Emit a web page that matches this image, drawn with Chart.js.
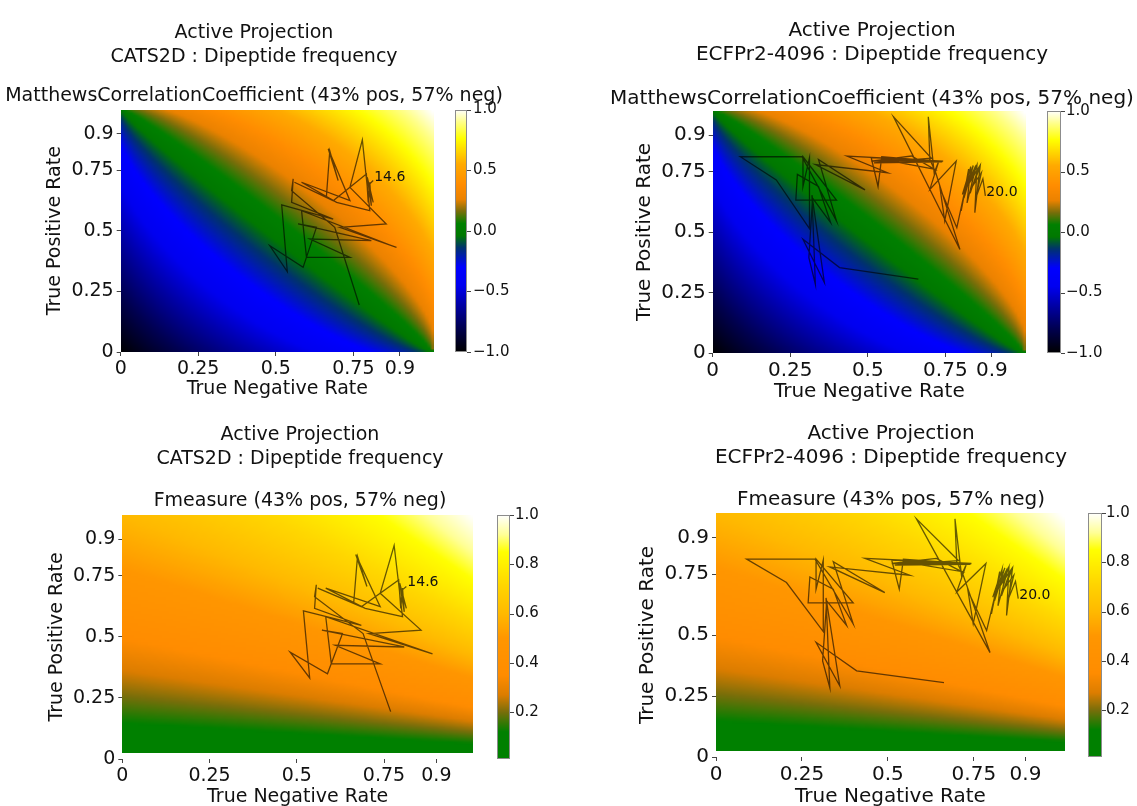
<!DOCTYPE html>
<html>
<head>
<meta charset="utf-8">
<script src="https://cdn.jsdelivr.net/npm/chart.js@4.4.1/dist/chart.umd.min.js"></script>
<style>
  html, body { margin: 0; background: #fff; }
  #page { position: relative; width: 1137px; height: 806px; overflow: hidden; background: #fff; }
  canvas { position: absolute; }
</style>
</head>
<body>
<div id="page">
  <canvas id="p0" width="528" height="412" style="left:-10px;top:0px"></canvas>
  <canvas id="p1" width="530" height="413" style="left:607px;top:0px"></canvas>
  <canvas id="p2" width="520" height="419" style="left:40px;top:400px"></canvas>
  <canvas id="p3" width="538" height="417" style="left:622px;top:400px"></canvas>
</div>
<script>
const FONT = '"DejaVu Sans", Verdana, sans-serif';

// --- DATA ---
const X_TICKS = [0, 0.25, 0.5, 0.75, 0.9];
const Y_TICKS = [0, 0.25, 0.5, 0.75, 0.9];
const MCC_TICKS = [-1, -0.5, 0, 0.5, 1];
const F_TICKS = [0.2, 0.4, 0.6, 0.8, 1.0];

// class balance from the titles
const POS_SHARE = 0.43;
const NEG_SHARE = 0.57;

// CATS2D trajectory
const CATS_TNR = [0.769, 0.690, 0.551, 0.556, 0.551, 0.685, 0.519, 0.537, 0.481, 0.588,
                  0.631, 0.572, 0.808, 0.610, 0.739, 0.599, 0.583, 0.889, 0.707, 0.856,
                  0.739, 0.779, 0.803, 0.696, 0.583, 0.739, 0.669, 0.701, 0.674, 0.663,
                  0.560, 0.685, 0.792, 0.798, 0.803, 0.808, 0.795, 0.814, 0.800, 0.814];
const CATS_TPR = [0.194, 0.514, 0.665, 0.714, 0.617, 0.548, 0.607, 0.332, 0.438, 0.349,
                  0.514, 0.528, 0.459, 0.466, 0.390, 0.390, 0.583, 0.431, 0.514, 0.528,
                  0.679, 0.875, 0.583, 0.617, 0.700, 0.624, 0.838, 0.707, 0.830, 0.638,
                  0.700, 0.624, 0.734, 0.617, 0.700, 0.603, 0.720, 0.617, 0.690, 0.707];
const CATS_END = '14.6';

// ECFPr2-4096 trajectory
const ECFP_TNR = [0.663, 0.409, 0.291, 0.360, 0.320, 0.331, 0.310, 0.322, 0.380, 0.341,
                  0.273, 0.268, 0.399, 0.291, 0.291, 0.312, 0.312, 0.205, 0.089, 0.288,
                  0.399, 0.341, 0.491, 0.331, 0.564, 0.433, 0.743, 0.511, 0.533, 0.545,
                  0.719, 0.511, 0.641, 0.714, 0.545, 0.740, 0.520, 0.705, 0.583, 0.797,
                  0.719, 0.700, 0.695, 0.714, 0.729, 0.700, 0.785, 0.748, 0.733, 0.787,
                  0.816, 0.801, 0.825, 0.810, 0.840, 0.805, 0.832, 0.820, 0.850, 0.815,
                  0.843, 0.830, 0.857, 0.826, 0.852, 0.845, 0.862, 0.838, 0.866, 0.848,
                  0.871, 0.879];
const ECFP_TPR = [0.305, 0.353, 0.470, 0.291, 0.652, 0.284, 0.394, 0.640, 0.539, 0.688,
                  0.738, 0.632, 0.632, 0.811, 0.688, 0.807, 0.514, 0.715, 0.811, 0.811,
                  0.546, 0.800, 0.674, 0.779, 0.745, 0.814, 0.793, 0.807, 0.688, 0.811,
                  0.793, 0.793, 0.814, 0.760, 0.800, 0.790, 0.786, 0.805, 0.976, 0.428,
                  0.745, 0.800, 0.976, 0.745, 0.793, 0.676, 0.793, 0.546, 0.680, 0.518,
                  0.690, 0.587, 0.760, 0.640, 0.775, 0.655, 0.770, 0.620, 0.775, 0.680,
                  0.760, 0.660, 0.765, 0.700, 0.778, 0.580, 0.770, 0.690, 0.745, 0.640,
                  0.720, 0.649];
const ECFP_END = '20.0';

// --- METRICS (colour field behind the trajectories) ---
function mcc(tpr, tnr) {
    const tp = POS_SHARE * tpr, fn = POS_SHARE * (1 - tpr);
    const tn = NEG_SHARE * tnr, fp = NEG_SHARE * (1 - tnr);
    const d = Math.sqrt((tp + fp) * (tp + fn) * (tn + fp) * (tn + fn));
    return d > 0 ? (tp * tn - fp * fn) / d : 0;
}
function fmeasure(tpr, tnr) {
    const tp = POS_SHARE * tpr, fn = POS_SHARE * (1 - tpr);
    const fp = NEG_SHARE * (1 - tnr);
    const d = 2 * tp + fp + fn;
    return d > 0 ? 2 * tp / d : 0;
}

// colour maps: [value, r, g, b]
const MCC_CMAP = [[-1, 0, 0, 0], [-0.8, 0, 0, 80], [-0.6, 0, 0, 170], [-0.45, 0, 0, 240], [-0.3, 0, 0, 255],
                  [-0.14, 0, 50, 110], [-0.04, 0, 120, 0], [0.06, 0, 128, 0], [0.16, 120, 110, 10],
                  [0.26, 235, 130, 0], [0.38, 255, 140, 0], [0.55, 255, 170, 0], [0.76, 255, 255, 0],
                  [0.9, 255, 255, 140], [1, 255, 255, 255]];
const F_CMAP = [[0, 0, 128, 0], [0.12, 0, 128, 0], [0.2, 120, 110, 10], [0.27, 220, 125, 0],
                [0.35, 255, 140, 0], [0.5, 255, 150, 0], [0.6, 255, 185, 0], [0.72, 255, 215, 0],
                [0.85, 255, 255, 0], [0.92, 255, 255, 150], [1, 255, 255, 255]];

function colorAt(cmap, v) {
    if (v <= cmap[0][0]) return cmap[0].slice(1);
    for (let i = 1; i < cmap.length; i++) {
        if (v <= cmap[i][0]) {
            const a = cmap[i - 1], b = cmap[i];
            const t = (v - a[0]) / (b[0] - a[0]);
            return [a[1] + t * (b[1] - a[1]), a[2] + t * (b[2] - a[2]), a[3] + t * (b[3] - a[3])];
        }
    }
    return cmap[cmap.length - 1].slice(1);
}
const rgb = c => `rgb(${Math.round(c[0])},${Math.round(c[1])},${Math.round(c[2])})`;

// --- PLUGINS ---
const fieldPlugin = {
    id: 'field',
    beforeDatasetsDraw(chart, args, o) {
        const { ctx, scales: { x, y } } = chart;
        const nx = 101, ny = 100;
        const off = document.createElement('canvas');
        off.width = nx; off.height = ny;
        const octx = off.getContext('2d');
        const img = octx.createImageData(nx, ny);
        for (let j = 0; j < ny; j++) {
            const tpr = 1 - (j + 0.5) * (1 - o.yFrom) / ny;
            for (let i = 0; i < nx; i++) {
                const tnr = (i + 0.5) * o.xTo / nx;
                const c = colorAt(o.cmap, o.metric(tpr, tnr));
                const k = (j * nx + i) * 4;
                img.data[k] = c[0]; img.data[k + 1] = c[1]; img.data[k + 2] = c[2]; img.data[k + 3] = 255;
            }
        }
        octx.putImageData(img, 0, 0);
        const x0 = x.getPixelForValue(0), x1 = x.getPixelForValue(o.xTo);
        const y0 = y.getPixelForValue(1), y1 = y.getPixelForValue(o.yFrom);
        ctx.save();
        ctx.imageSmoothingEnabled = true;
        ctx.drawImage(off, x0, y0, x1 - x0, y1 - y0);
        ctx.restore();
    }
};

const colorbarPlugin = {
    id: 'colorbar',
    afterDraw(chart, args, o) {
        const { ctx, chartArea: a } = chart;
        const cb = chart.scales.cb;
        const bx = Math.round(a.right + o.gap), bw = o.width;
        const top = Math.round(a.top), bot = Math.round(a.bottom);
        ctx.save();
        for (let py = top; py < bot; py++) {
            ctx.fillStyle = rgb(colorAt(o.cmap, cb.getValueForPixel(py + 0.5)));
            ctx.fillRect(bx, py, bw, 1);
        }
        ctx.strokeStyle = '#8c8c8c';
        ctx.lineWidth = 1;
        ctx.strokeRect(bx + 0.5, top + 0.5, bw - 1, bot - top - 1);
        ctx.strokeStyle = '#444';
        cb.ticks.forEach(t => {
            const py = Math.round(cb.getPixelForValue(t.value)) + 0.5;
            ctx.beginPath();
            ctx.moveTo(bx + bw, py);
            ctx.lineTo(bx + bw + 4, py);
            ctx.stroke();
        });
        ctx.restore();
    }
};

const endLabelPlugin = {
    id: 'endLabel',
    afterDatasetsDraw(chart, args, o) {
        const meta = chart.getDatasetMeta(0);
        const pt = meta.data[meta.data.length - 1];
        const ctx = chart.ctx;
        ctx.save();
        ctx.font = `14px ${FONT}`;
        ctx.fillStyle = '#111';
        ctx.textAlign = 'left';
        ctx.textBaseline = 'alphabetic';
        ctx.fillText(o.text, pt.x + 1, pt.y);
        ctx.restore();
    }
};

// --- PANELS ---
const PANELS = [
    { id: 'p0', name: 'CATS2D : Dipeptide frequency', kind: 'mcc', tnr: CATS_TNR, tpr: CATS_TPR, end: CATS_END,
      fs: 19, lh: 1.25, tPad: 21, sPad: 15.5, sPadB: 1.75, wy: 130.7, ytPad: 53.6, wcb: 84, xtPb: 11.6,
      xTo: 1.01, yFrom: 0, gap: 21, bw: 12, cbPad: 39 },
    { id: 'p1', name: 'ECFPr2-4096 : Dipeptide frequency', kind: 'mcc', tnr: ECFP_TNR, tpr: ECFP_TPR, end: ECFP_END,
      fs: 20, lh: 1.2, tPad: 19, sPad: 20, sPadB: 0, wy: 105.7, ytPad: 26, wcb: 111, xtPb: 9,
      xTo: 1.01, yFrom: 0, gap: 21, bw: 14, cbPad: 40 },
    { id: 'p2', name: 'CATS2D : Dipeptide frequency', kind: 'f', tnr: CATS_TNR, tpr: CATS_TPR, end: CATS_END,
      fs: 19, lh: 1.25, tPad: 23.1, sPad: 18.5, sPadB: 2.1, wy: 82.3, ytPad: 5.6, wcb: 87, xtPb: 10.6,
      xTo: 1.005, yFrom: 0.025, gap: 24, bw: 13, cbPad: 42 },
    { id: 'p3', name: 'ECFPr2-4096 : Dipeptide frequency', kind: 'f', tnr: ECFP_TNR, tpr: ECFP_TPR, end: ECFP_END,
      fs: 20, lh: 1.2, tPad: 22, sPad: 18, sPadB: 1, wy: 94, ytPad: 14, wcb: 95, xtPb: 8,
      xTo: 1.015, yFrom: 0.025, gap: 23, bw: 14, cbPad: 41 }
];

const fmtTick = v => String(v);
const fmtCb = v => (v < 0 ? '\u2212' : '') + Math.abs(v).toFixed(1);

PANELS.forEach(p => {
    const isMcc = p.kind === 'mcc';
    const tickFont = { family: FONT, size: p.fs, lineHeight: 1.2 };
    new Chart(document.getElementById(p.id), {
        type: 'scatter',
        data: {
            datasets: [{
                data: p.tnr.map((v, i) => ({ x: v, y: p.tpr[i] })),
                showLine: true,
                borderColor: 'rgba(0,0,0,0.6)',
                borderWidth: 1.3,
                pointRadius: 0,
                tension: 0
            }]
        },
        options: {
            responsive: false,
            animation: false,
            devicePixelRatio: 1,
            layout: { padding: 0 },
            scales: {
                x: {
                    type: 'linear', min: 0, max: p.xTo,
                    afterBuildTicks: s => { s.ticks = X_TICKS.map(v => ({ value: v })); },
                    afterFit: s => { s.height = 60; },
                    grid: { drawOnChartArea: false, drawTicks: true, tickLength: 4, color: '#444' },
                    border: { display: false },
                    ticks: { autoSkip: false, maxRotation: 0, padding: 2, color: '#111', font: tickFont, callback: fmtTick },
                    title: { display: true, text: 'True Negative Rate', color: '#111', font: tickFont,
                             padding: { top: 0, bottom: p.xtPb } }
                },
                y: {
                    type: 'linear', min: 0, max: 1,
                    afterBuildTicks: s => { s.ticks = Y_TICKS.map(v => ({ value: v })); },
                    afterFit: s => { s.width = p.wy; },
                    grid: { drawOnChartArea: false, drawTicks: true, tickLength: 4, color: '#444' },
                    border: { display: false },
                    ticks: { autoSkip: false, padding: 3, color: '#111', font: tickFont, callback: fmtTick },
                    title: { display: true, text: 'True Positive Rate', color: '#111', font: tickFont,
                             padding: { top: p.ytPad, bottom: 0 } }
                },
                cb: {
                    type: 'linear', position: 'right',
                    min: isMcc ? -1 : 0.01, max: 1,
                    afterBuildTicks: s => { s.ticks = (isMcc ? MCC_TICKS : F_TICKS).map(v => ({ value: v })); },
                    afterFit: s => { s.width = p.wcb; },
                    grid: { display: false, drawTicks: false, drawOnChartArea: false },
                    border: { display: false },
                    ticks: { autoSkip: false, padding: p.cbPad, color: '#111',
                             font: { family: FONT, size: 15 }, callback: fmtCb }
                }
            },
            plugins: {
                legend: { display: false },
                tooltip: { enabled: false },
                title: {
                    display: true, text: ['Active Projection', p.name], color: '#111',
                    font: { family: FONT, size: p.fs, weight: 'normal', lineHeight: p.lh },
                    padding: { top: p.tPad, bottom: 0 }
                },
                subtitle: {
                    display: true,
                    text: isMcc ? 'MatthewsCorrelationCoefficient (43% pos, 57% neg)' : 'Fmeasure (43% pos, 57% neg)',
                    color: '#111',
                    font: { family: FONT, size: p.fs, weight: 'normal', lineHeight: p.lh },
                    padding: { top: p.sPad, bottom: p.sPadB }
                },
                field: { metric: isMcc ? mcc : fmeasure, cmap: isMcc ? MCC_CMAP : F_CMAP, xTo: p.xTo, yFrom: p.yFrom },
                colorbar: { cmap: isMcc ? MCC_CMAP : F_CMAP, gap: p.gap, width: p.bw },
                endLabel: { text: p.end }
            }
        },
        plugins: [fieldPlugin, colorbarPlugin, endLabelPlugin]
    });
});
</script>
</body>
</html>
